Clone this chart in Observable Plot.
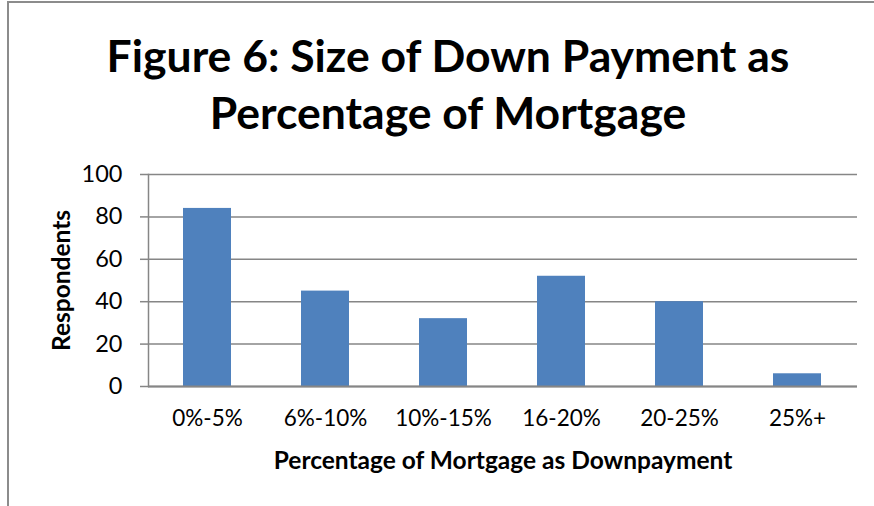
<!DOCTYPE html>
<html>
<head>
<meta charset="utf-8">
<script src="https://cdn.jsdelivr.net/npm/d3@7"></script>
<script src="https://cdn.jsdelivr.net/npm/@observablehq/plot@0.6"></script>
<style>
  html, body { margin: 0; padding: 0; background: #fff; }
  #wrap { position: relative; width: 874px; height: 506px; overflow: hidden; font-family: Lato, "Open Sans", sans-serif; }
  #frame { position: absolute; left: 7px; top: 1px; width: 900px; height: 600px; border-top: 2px solid #8c8c8c; border-left: 2px solid #8c8c8c; pointer-events: none; }
  #title { height: 150px; box-sizing: border-box; padding-top: 26px; text-align: center; font-weight: 700; font-size: 44.5px; line-height: 57px; color: #000; padding-left: 22px; white-space: nowrap; }
  #chart svg { display: block; }
</style>
</head>
<body>
<div id="wrap">
  <div id="frame"></div>
  <div id="title">Figure 6: Size of Down Payment as<br>Percentage of Mortgage</div>
  <div id="chart"></div>
</div>
<script>
const categories = ["0%-5%", "6%-10%", "10%-15%", "16-20%", "20-25%", "25%+"];
const respondents = [84, 45, 32, 52, 40, 6];
const yTicks = [0, 20, 40, 60, 80, 100];
const xTitle = "Percentage of Mortgage as Downpayment";
const yTitle = "Respondents";

const data = categories.map((c, i) => ({category: c, value: respondents[i]}));

const chart = Plot.plot({
  width: 874,
  height: 356,
  marginTop: 24,
  marginBottom: 120,
  marginLeft: 148,
  marginRight: 17,
  style: {fontFamily: "Lato, 'Open Sans', sans-serif", color: "#000", background: "#fff"},
  x: {domain: categories, paddingInner: 0.59, paddingOuter: 0.295, align: 0.5, label: null},
  y: {domain: [0, 100], ticks: yTicks, label: null},
  marks: [
    Plot.gridY(yTicks, {stroke: "#868686", strokeOpacity: 1, strokeWidth: 1.5}),
    Plot.barY(data, {x: "category", y: "value", fill: "#4F81BD"}),
    Plot.ruleY([0], {stroke: "#868686", strokeWidth: 2}),
    Plot.frame({anchor: "left", stroke: "#868686", strokeWidth: 1.5}),
    Plot.axisY(yTicks, {tickSize: 8, tickPadding: 18, fontSize: 23.5, stroke: "#868686", strokeWidth: 1.5, tickFormat: d => String(d), label: null}),
    Plot.axisX({tickSize: 0, tickPadding: 24, fontSize: 22.5, label: null}),
    Plot.text([xTitle], {frameAnchor: "bottom", dy: 82, lineAnchor: "bottom", fontSize: 24.5, fontWeight: "bold"}),
    Plot.text([yTitle], {frameAnchor: "left", dx: -86, rotate: -90, textAnchor: "middle", lineAnchor: "middle", fontSize: 24.5, fontWeight: "bold"})
  ]
});
document.getElementById("chart").appendChild(chart);
</script>
</body>
</html>
